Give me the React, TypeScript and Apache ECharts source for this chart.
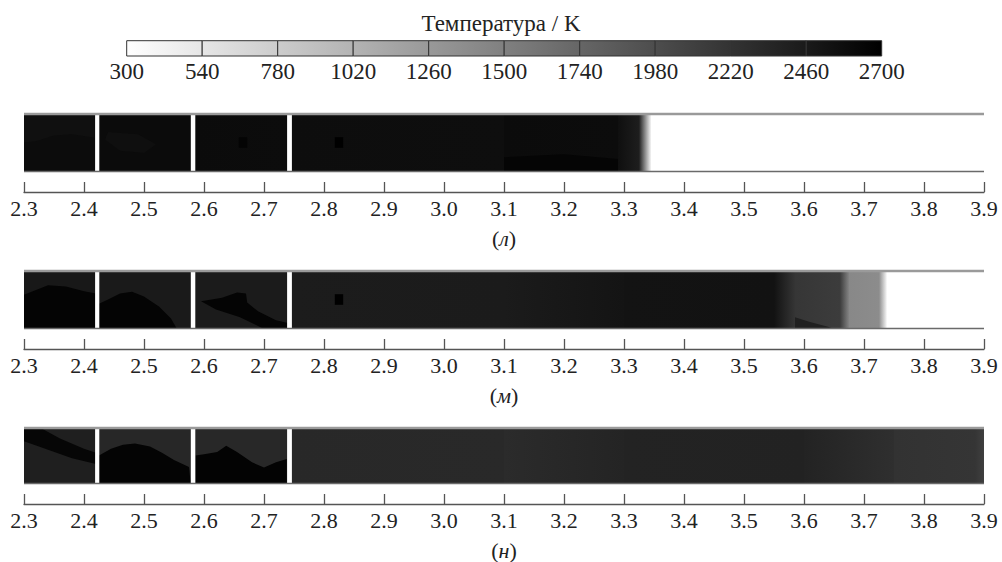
import React, { useEffect, useRef } from "react";
import * as echarts from "echarts";

// ---------- data ----------
const cbTicks = [300, 540, 780, 1020, 1260, 1500, 1740, 1980, 2220, 2460, 2700];
const X_MIN = 2.3;
const X_MAX = 3.9;
const X_STEP = 0.1;
const panelLabels = ["л", "м", "н"];
const gaps = [
  [2.4185, 2.4255],
  [2.578, 2.5855],
  [2.7385, 2.7465],
];
const walls = [1, 0];

// base segments: [x0, x1, T at x0, T at x1]
const baseL = [
  [2.3, 2.42, 2590, 2590],
  [2.42, 2.58, 2600, 2600],
  [2.58, 2.74, 2600, 2590],
  [2.74, 3.1, 2580, 2570],
  [3.1, 3.29, 2600, 2590],
  [3.29, 3.325, 2560, 2420],
  [3.325, 3.345, 2420, 300],
  [3.345, 3.9, 300, 300],
];
const patchL = [
  { t: 2550, pts: [[2.3, 1], [2.418, 1], [2.418, 0.58], [2.38, 0.64], [2.35, 0.62], [2.32, 0.52], [2.3, 0.5]] },
  { t: 2560, pts: [[2.44, 0.68], [2.49, 0.64], [2.52, 0.47], [2.5, 0.32], [2.46, 0.36], [2.435, 0.55]] },
  { t: 2650, pts: [[3.1, 0], [3.1, 0.25], [3.2, 0.3], [3.29, 0.22], [3.29, 0]] },
];
const spotL = [
  [2.665, 0.5, 2660],
  [2.825, 0.5, 2700],
];

const baseM = [
  [2.3, 2.42, 2470, 2470],
  [2.42, 2.58, 2460, 2460],
  [2.58, 2.74, 2450, 2450],
  [2.74, 3.1, 2440, 2450],
  [3.1, 3.3, 2450, 2510],
  [3.3, 3.55, 2520, 2530],
  [3.55, 3.585, 2530, 2190],
  [3.585, 3.66, 2190, 2140],
  [3.66, 3.675, 2140, 1420],
  [3.675, 3.725, 1420, 1380],
  [3.725, 3.738, 1380, 300],
  [3.738, 3.9, 300, 300],
];
const patchM = [
  { t: 2660, pts: [[2.3, 0], [2.3, 0.58], [2.32, 0.66], [2.34, 0.74], [2.37, 0.72], [2.4, 0.64], [2.42, 0.6], [2.42, 0]] },
  { t: 2660, pts: [[2.425, 0], [2.425, 0.43], [2.44, 0.5], [2.46, 0.6], [2.48, 0.63], [2.5, 0.55], [2.525, 0.38], [2.545, 0.18], [2.555, 0]] },
  { t: 2660, pts: [[2.595, 0.47], [2.63, 0.53], [2.655, 0.62], [2.67, 0.6], [2.672, 0.45], [2.69, 0.3], [2.72, 0.15], [2.74, 0.1], [2.74, 0], [2.7, 0], [2.66, 0.2], [2.62, 0.33]] },
  { t: 2400, pts: [[3.585, 0], [3.585, 0.2], [3.61, 0.12], [3.64, 0.04], [3.65, 0]] },
];
const spotM = [[2.825, 0.5, 2700]];

const baseN = [
  [2.3, 2.42, 2410, 2410],
  [2.42, 2.58, 2330, 2330],
  [2.58, 2.74, 2320, 2320],
  [2.74, 3.1, 2320, 2310],
  [3.1, 3.3, 2300, 2360],
  [3.3, 3.6, 2370, 2380],
  [3.6, 3.75, 2370, 2260],
  [3.75, 3.885, 2230, 2200],
  [3.885, 3.9, 2200, 2100],
];
const patchN = [
  { t: 2640, pts: [[2.3, 1], [2.325, 1], [2.36, 0.8], [2.4, 0.62], [2.42, 0.55], [2.42, 0.35], [2.38, 0.45], [2.34, 0.6], [2.3, 0.75]] },
  { t: 2660, pts: [[2.425, 0], [2.425, 0.5], [2.445, 0.62], [2.465, 0.69], [2.485, 0.71], [2.51, 0.66], [2.53, 0.55], [2.55, 0.42], [2.575, 0.3], [2.578, 0]] },
  { t: 2670, pts: [[2.586, 0], [2.586, 0.5], [2.6, 0.52], [2.622, 0.56], [2.637, 0.67], [2.655, 0.56], [2.68, 0.38], [2.7, 0.29], [2.72, 0.38], [2.738, 0.44], [2.738, 0]] },
];
const spotN: number[][] = [];

const panels = [
  { base: baseL, patches: patchL, spots: spotL },
  { base: baseM, patches: patchM, spots: spotM },
  { base: baseN, patches: patchN, spots: spotN },
];

// ---------- helpers ----------
const FONT = "'Liberation Serif', 'Times New Roman', serif";
const TMIN = cbTicks[0];
const TMAX = cbTicks[cbTicks.length - 1];

function gray(t: number) {
  let g = Math.round((255 * (TMAX - t)) / (TMAX - TMIN));
  g = Math.max(0, Math.min(255, g));
  return `rgb(${g},${g},${g})`;
}
function grad(t0: number, t1: number) {
  return {
    type: "linear",
    x: 0,
    y: 0,
    x2: 1,
    y2: 0,
    colorStops: [
      { offset: 0, color: gray(t0) },
      { offset: 1, color: gray(t1) },
    ],
  };
}

type Item =
  | { kind: "seg"; d: number[] }
  | { kind: "poly"; t: number; pts: number[][] }
  | { kind: "spot"; d: number[] }
  | { kind: "gap"; d: number[] };

function buildItems(p: any): Item[] {
  const items: Item[] = [];
  p.base.forEach((d: number[]) => items.push({ kind: "seg", d }));
  p.patches.forEach((q: any) => items.push({ kind: "poly", t: q.t, pts: q.pts }));
  p.spots.forEach((d: number[]) => items.push({ kind: "spot", d }));
  gaps.forEach((d) => items.push({ kind: "gap", d }));
  return items;
}

function panelRender(items: Item[]) {
  return (params: any, api: any) => {
    const it = items[api.value(2)];
    if (!it) return null;
    if (it.kind === "seg") {
      const [x0, x1, t0, t1] = it.d;
      const a = api.coord([x0, 1]);
      const b = api.coord([x1, 0]);
      return {
        type: "rect",
        shape: { x: a[0], y: a[1], width: b[0] - a[0] + 0.6, height: b[1] - a[1] },
        style: { fill: t0 === t1 ? gray(t0) : grad(t0, t1) },
      };
    }
    if (it.kind === "poly") {
      return {
        type: "polygon",
        shape: { points: it.pts.map((p) => api.coord(p)) },
        style: { fill: gray(it.t) },
      };
    }
    if (it.kind === "spot") {
      const [x, y, t] = it.d;
      const a = api.coord([x - 0.007, y + 0.09]);
      const b = api.coord([x + 0.007, y - 0.09]);
      return {
        type: "rect",
        shape: { x: a[0], y: a[1], width: b[0] - a[0], height: b[1] - a[1] },
        style: { fill: gray(t) },
      };
    }
    const [x0, x1] = it.d;
    const a = api.coord([x0, 1]);
    const b = api.coord([x1, 0]);
    return {
      type: "rect",
      shape: { x: a[0], y: a[1], width: b[0] - a[0], height: b[1] - a[1] },
      style: { fill: gray(TMIN) },
    };
  };
}

function buildOption() {
  const grids: any[] = [{ left: 126.7, width: 755, top: 40.7, height: 15.3 }];
  const xAxes: any[] = [
    {
      gridIndex: 0,
      type: "category",
      data: cbTicks.map(String),
      boundaryGap: false,
      axisLine: { show: false },
      axisTick: { show: false },
      splitLine: { show: false },
      axisLabel: { interval: 0, fontFamily: FONT, fontSize: 23, color: "#222", margin: 4 },
    },
  ];
  const yAxes: any[] = [{ gridIndex: 0, type: "value", min: 0, max: 1, show: false }];
  const series: any[] = [
    {
      type: "custom",
      xAxisIndex: 0,
      yAxisIndex: 0,
      data: cbTicks.slice(0, -1).map((t, i) => [i, t, cbTicks[i + 1]]),
      renderItem: (params: any, api: any) => {
        const i = api.value(0);
        const a = api.coord([i, 1]);
        const b = api.coord([i + 1, 0]);
        return {
          type: "rect",
          shape: { x: a[0], y: a[1], width: b[0] - a[0], height: b[1] - a[1] },
          style: { fill: grad(api.value(1), api.value(2)), stroke: "#333", lineWidth: 1 },
        };
      },
    },
  ];

  panels.forEach((p, k) => {
    const gi = k + 1;
    grids.push({ left: 24, right: 18, top: 113 + 157 * k, height: 59 });
    xAxes.push({
      gridIndex: gi,
      type: "value",
      min: X_MIN,
      max: X_MAX,
      interval: X_STEP,
      position: "bottom",
      offset: 20,
      axisLine: { show: true, onZero: false, lineStyle: { color: "#555", width: 1.3 } },
      axisTick: { show: true, inside: true, length: 10, lineStyle: { color: "#555", width: 1.3 } },
      splitLine: { show: false },
      axisLabel: {
        formatter: (v: number) => v.toFixed(1),
        fontFamily: FONT,
        fontSize: 22,
        color: "#222",
        margin: 5,
        showMinLabel: true,
        showMaxLabel: true,
      },
      name: `{a|(}{b|${panelLabels[k]}}{a|)}`,
      nameLocation: "middle",
      nameGap: 35,
      nameTextStyle: {
        fontFamily: FONT,
        fontSize: 22,
        color: "#222",
        rich: {
          a: { fontFamily: FONT, fontSize: 22, color: "#222" },
          b: { fontFamily: FONT, fontSize: 22, color: "#222", fontStyle: "italic" },
        },
      },
    });
    yAxes.push({ gridIndex: gi, type: "value", min: 0, max: 1, show: false });
    const items = buildItems(p);
    series.push({
      type: "custom",
      xAxisIndex: gi,
      yAxisIndex: gi,
      z: 2,
      clip: true,
      data: items.map((_, i) => [X_MIN, 0.5, i]),
      renderItem: panelRender(items),
    });
    series.push({
      type: "custom",
      xAxisIndex: gi,
      yAxisIndex: gi,
      z: 3,
      data: walls.map((y) => [X_MIN, y]),
      renderItem: (params: any, api: any) => {
        const y = api.value(1);
        const a = api.coord([X_MIN, y]);
        const b = api.coord([X_MAX, y]);
        const top = y >= 1;
        return {
          type: "line",
          shape: { x1: a[0], y1: a[1] + (top ? 1 : -0.5), x2: b[0], y2: b[1] + (top ? 1 : -0.5) },
          style: { stroke: top ? "#9a9a9a" : "#6a6a6a", lineWidth: top ? 2.5 : 1.5 },
        };
      },
    });
  });

  return {
    animation: false,
    backgroundColor: "#ffffff",
    title: {
      text: "Температура / K",
      left: "center",
      top: 7,
      textStyle: { fontFamily: FONT, fontSize: 23, fontWeight: "normal", color: "#222" },
    },
    grid: grids,
    xAxis: xAxes,
    yAxis: yAxes,
    series,
  };
}

export default function App() {
  const ref = useRef<HTMLDivElement>(null);
  useEffect(() => {
    document.body.style.margin = "0";
    if (!ref.current) return;
    const chart = echarts.init(ref.current, undefined, { renderer: "svg" });
    chart.setOption(buildOption() as any);
    return () => chart.dispose();
  }, []);
  return (
    <div
      ref={ref}
      style={{ position: "fixed", left: 0, top: 0, width: 1002, height: 562, background: "#fff" }}
    />
  );
}
